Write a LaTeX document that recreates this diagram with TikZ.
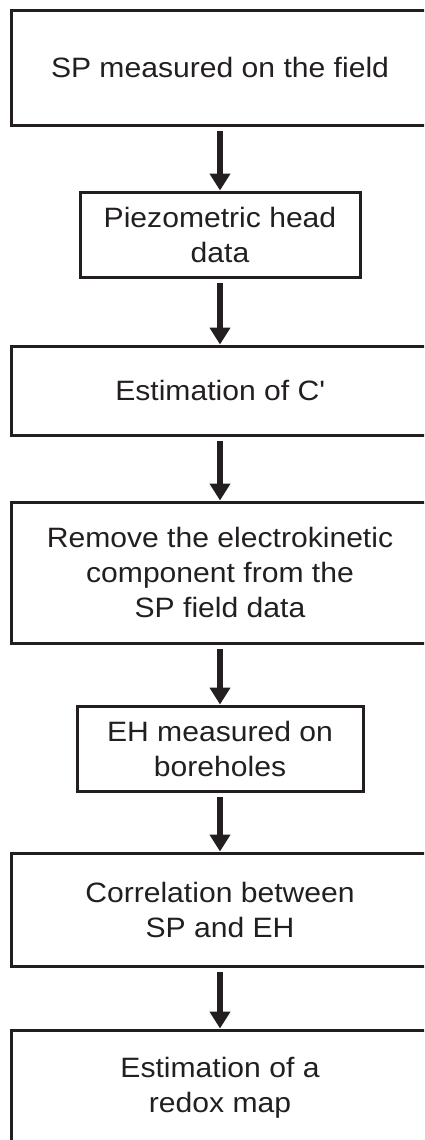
\documentclass[tikz,border=0pt]{standalone}
\usepackage{fontspec}
\usepackage{tikz}
\usetikzlibrary{arrows.meta}
\newfontfamily\flowfont[FakeStretch=1.075]{Liberation Sans}
\definecolor{ink}{HTML}{231F20}
\tikzset{
  stepbox/.style={draw=ink, text=ink, line width=1.5pt, align=center, inner sep=0pt,
    font=\flowfont\fontsize{14}{17.5}\selectfont},
  flow/.style={draw=ink, line width=3.2pt, -{Triangle[width=10pt,length=8.5pt]}, shorten <=2pt}
}

\begin{document}
\begin{tikzpicture}[x=0.5pt, y=-0.5pt]
      \useasboundingbox (0,0) rectangle (424,1140);
      \clip (0,0) rectangle (424,1140);

      \path
      (220,67.5) node[stepbox, minimum width=209pt, minimum height=57.5pt](field){SP measured on the field}
      (220,234.5) node[stepbox, minimum width=140pt, minimum height=42.5pt](head){Piezometric head\\data}
      (220,390.5) node[stepbox, minimum width=209pt, minimum height=44.5pt](coef){Estimation of C\textquotesingle}
      (220,572.5) node[stepbox, minimum width=209pt, minimum height=70.5pt](remove){Remove the electrokinetic\\component from the\\SP field data}
      (220,748.5) node[stepbox, minimum width=143pt, minimum height=42.5pt](eh){EH measured on\\boreholes}
      (220,909.5) node[stepbox, minimum width=209pt, minimum height=56.5pt](corr){Correlation between\\SP and EH}
      (220,1088) node[stepbox, minimum width=209pt, minimum height=58pt](redox){Estimation of a\\redox map};

      \draw[flow] (field) -- (head);
      \draw[flow] (head) -- (coef);
      \draw[flow] (coef) -- (remove);
      \draw[flow] (remove) -- (eh);
      \draw[flow] (eh) -- (corr);
      \draw[flow] (corr) -- (redox);
    \end{tikzpicture}
\end{document}
